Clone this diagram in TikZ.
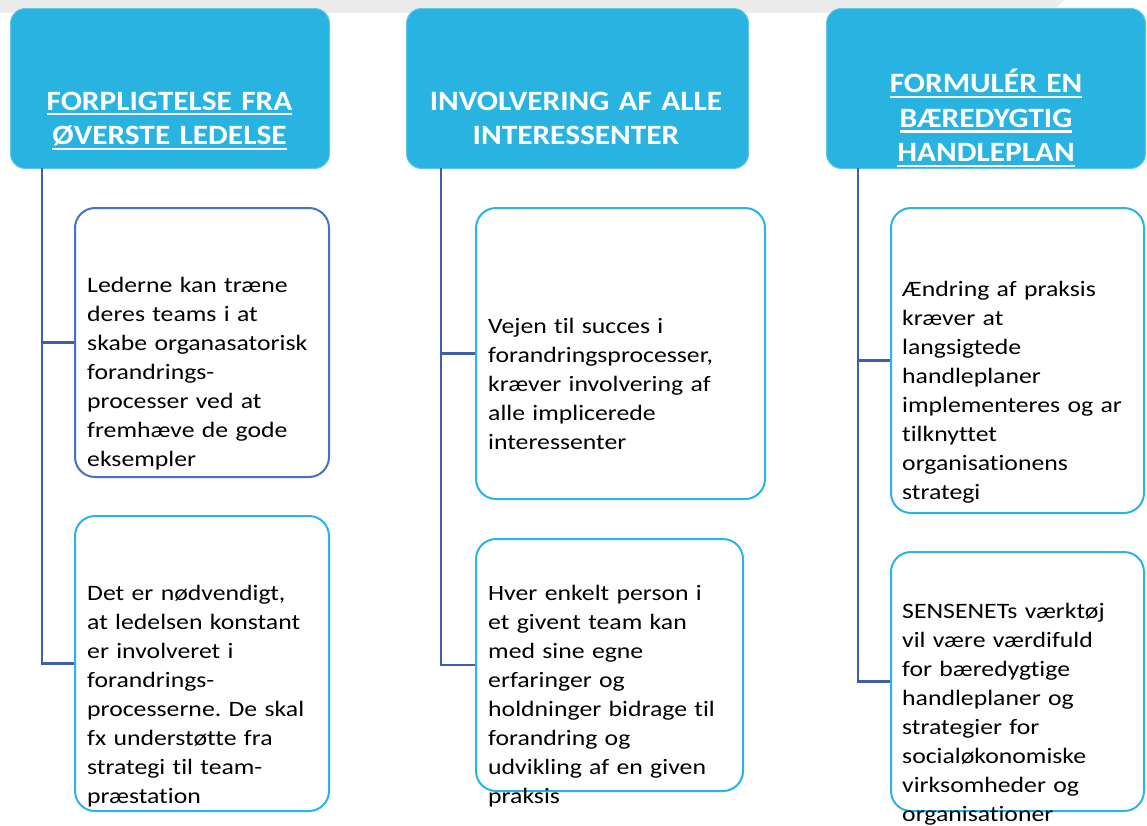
\documentclass[tikz,border=0pt]{standalone}
\usepackage{fontspec}
\setmainfont{Carlito}
\newfontfamily\bodyfont{Carlito}[FakeStretch=1.17, Ligatures=NoCommon]
\newfontfamily\titlefont{Carlito}[FakeStretch=1.12, Ligatures=NoCommon]
\definecolor{hdrfill}{RGB}{41,179,225}
\definecolor{hdrline}{RGB}{96,199,235}
\definecolor{connblue}{RGB}{63,93,168}
\definecolor{darkedge}{RGB}{68,114,196}
\definecolor{lightedge}{RGB}{41,180,230}
\definecolor{band}{RGB}{235,235,235}
% underline used in the header titles
\newcommand\hdrul[1]{\setbox0\hbox{#1}\leavevmode\rlap{\rule[-5.4pt]{\wd0}{2.2pt}}\box0}
\begin{document}
\frenchspacing
\begin{tikzpicture}[x=1pt,y=-1pt,
  hdrbox/.style={draw=hdrline, line width=1pt, fill=hdrfill, rounded corners=15pt,
    anchor=north west, inner sep=0pt},
  itembox/.style={draw=lightedge, line width=2pt, fill=white, rounded corners=20pt,
    anchor=north west, inner sep=0pt},
  hdrtext/.style={text=white, font=\titlefont\bfseries\fontsize{28}{34.5}\selectfont,
    align=center, text width=320pt, inner sep=0pt, anchor=base},
  itemtext/.style={text=black, font=\bodyfont\fontsize{22}{29}\selectfont,
    align=left, text width=300pt, inner sep=0pt, anchor=base west},
  conn/.style={draw=connblue, line width=2.4pt}]
\useasboundingbox (0,0) rectangle (1147,825);

% grey strip along the top edge
\fill[band] (0,0) -- (1064,0) -- (1052,12.5) -- (0,12.5) -- cycle;

% column headers
\node[hdrbox, minimum width=319pt, minimum height=160pt] (h1) at (10,8) {};
\node[hdrbox, minimum width=342pt, minimum height=160pt] (h2) at (406,8) {};
\node[hdrbox, minimum width=319pt, minimum height=160pt] (h3) at (826,8) {};

\node[hdrtext] (h1t) at (169.5,110) {\hdrul{FORPLIGTELSE FRA}\\\hdrul{ØVERSTE LEDELSE}};
\node[hdrtext] (h2t) at (576,110) {INVOLVERING AF ALLE\\INTERESSENTER};
\node[hdrtext] (h3t) at (986,92.7) {\hdrul{FORMULÉR EN}\\\hdrul{BÆREDYGTIG}\\\hdrul{HANDLEPLAN}};

% item boxes
\node[itembox, draw=darkedge, minimum width=254pt, minimum height=269pt] (b11) at (74,207) {};
\node[itembox, minimum width=254pt, minimum height=295pt] (b12) at (74,515) {};
\node[itembox, minimum width=289pt, minimum height=291pt] (b21) at (475,207) {};
\node[itembox, minimum width=267pt, minimum height=252pt] (b22) at (475,538) {};
\node[itembox, minimum width=253pt, minimum height=305pt] (b31) at (890,207) {};
\node[itembox, minimum width=253pt, minimum height=259pt] (b32) at (890,551) {};

% connectors from each header to its items
\coordinate (t1) at (42,168);
\coordinate (t2) at (441,168);
\coordinate (t3) at (858,168);
\draw[conn] (t1) |- (b12.west);
\draw[conn] (t1 |- b11.west) -- (b11.west);
\draw[conn] (t2) |- (b22.west);
\draw[conn] (t2 |- b21.west) -- (b21.west);
\draw[conn] (t3) |- (b32.west);
\draw[conn] (t3 |- b31.west) -- (b31.west);

% item texts
\node[itemtext] (x11) at (87,292) {Lederne kan træne\\deres teams i at\\skabe organasatorisk\\forandrings-\\processer ved at\\fremhæve de gode\\eksempler};
\node[itemtext] (x12) at (87,600) {Det er nødvendigt,\\at ledelsen konstant\\er involveret i\\forandrings-\\processerne. De skal\\fx understøtte fra\\strategi til team-\\præstation};
\node[itemtext] (x21) at (488,333) {Vejen til succes i\\forandringsprocesser,\\kræver involvering af\\alle implicerede\\interessenter};
\node[itemtext] (x22) at (488,600) {Hver enkelt person i\\et givent team kan\\med sine egne\\erfaringer og\\holdninger bidrage til\\forandring og\\udvikling af en given\\praksis};
\node[itemtext] (x31) at (902,296) {Ændring af praksis\\kræver at\\langsigtede\\handleplaner\\implementeres og ar\\tilknyttet\\organisationens\\strategi};
\node[itemtext] (x32) at (902,618) {SENSENETs værktøj\\vil være værdifuld\\for bæredygtige\\handleplaner og\\strategier for\\socialøkonomiske\\virksomheder og\\organisationer};
\end{tikzpicture}
\end{document}
